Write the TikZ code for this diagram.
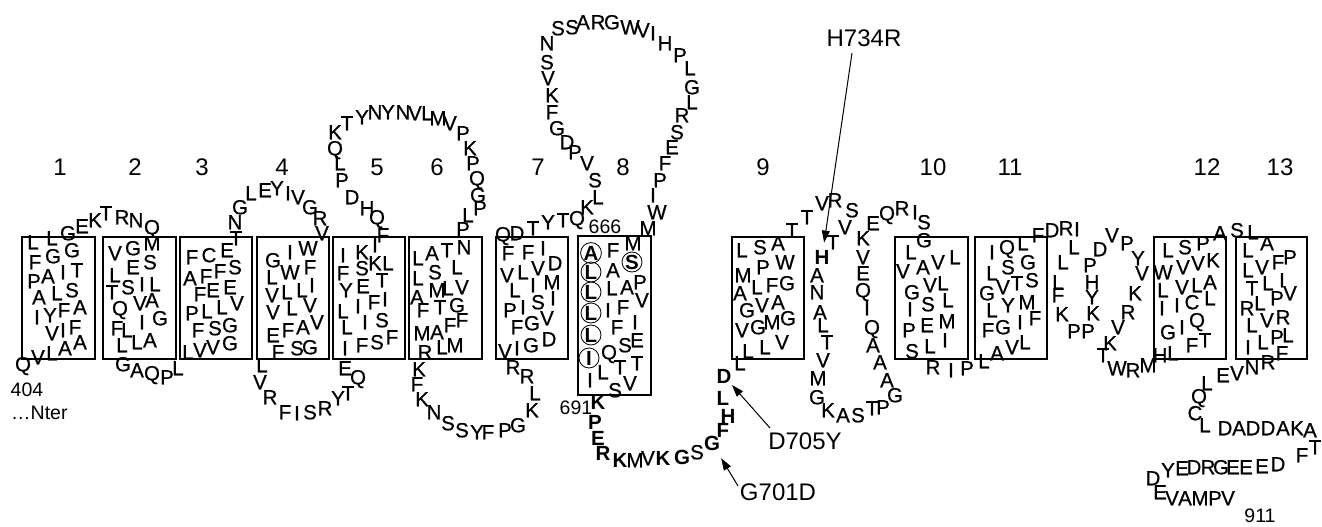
\documentclass[tikz,border=0pt]{standalone}
\usepackage{fontspec}
\setmainfont{Liberation Sans}
\newfontfamily\resfont{Liberation Sans}[FakeBold=0.6]
\newfontface\bresfont{Liberation Sans Bold}
\usetikzlibrary{arrows.meta,fit}
\tikzset{
  res/.style={font=\resfont\fontsize{20.5}{22}\selectfont, inner sep=0pt, text height=14.6pt, text depth=0pt},
  bres/.style={res, font=\bresfont\fontsize{20.5}{22}\selectfont},
  cres/.style={bres, draw, circle, line width=0.8pt, minimum size=20pt},
  tm/.style={draw, line width=1.1pt, inner sep=0pt, rectangle},
  num/.style={font=\fontsize{24}{26}\selectfont, inner sep=0pt},
  lab/.style={font=\fontsize{19.5}{21}\selectfont, inner sep=0pt},
  mut/.style={font=\fontsize{24}{26}\selectfont, inner sep=0pt},
  arr/.style={line width=1pt, -{Triangle[length=12pt,width=8pt]}},
}
\newcommand{\resgroup}[3]{\foreach \t/\x/\y [count=\i] in {#3} \node[#1] (#2\i) at (\x,\y) {\t};}
\begin{document}
\begin{tikzpicture}[x=1pt,y=-1pt]
\useasboundingbox (0,0) rectangle (1322,527);
% transmembrane boxes
\node[tm, fit={(22,237) (95,359)}] (tm1) {};
\node[tm, fit={(103,237) (176,359)}] (tm2) {};
\node[tm, fit={(180,237) (252,359)}] (tm3) {};
\node[tm, fit={(257,237) (329,359)}] (tm4) {};
\node[tm, fit={(333,237) (405,359)}] (tm5) {};
\node[tm, fit={(409,237) (482,359)}] (tm6) {};
\node[tm, fit={(496,237) (568,359)}] (tm7) {};
\node[tm, fit={(578,236) (651,395)}] (tm8) {};
\node[tm, fit={(732,237) (804,359)}] (tm9) {};
\node[tm, fit={(895,237) (968,359)}] (tm10) {};
\node[tm, fit={(975,237) (1047,359)}] (tm11) {};
\node[tm, fit={(1154,237) (1226,359)}] (tm12) {};
\node[tm, fit={(1236,237) (1307,359)}] (tm13) {};
% numbers
\foreach \t/\x [count=\i] in {1/60,2/135,3/202,4/282,5/377,6/437,7/538,8/623,9/763,10/933,11/1010,12/1207,13/1280}
  \node[num] (n\i) at (\x,167) {\t};
% residues
\resgroup{res}{a}{Q/23/364, V/38/357, L/52/353, A/65/348, A/80/342, V/52/333, I/63/330, F/75/327, I/37/317, Y/50/315, F/64/310, A/80/307, A/39/297, L/57/293, S/72/290, P/34/281, A/48/276, I/63/272, T/77/270, F/35/262, G/53/256, G/72/250, L/33/242, L/52/238, G/68/233, E/82/226, K/95/220, T/106/213, R/122/217, N/136/220, Q/152/227}
\resgroup{res}{b}{M/152/243, G/133/248, V/115/253, E/133/267, S/150/262, L/115/275, T/112/292, S/128/287, I/142/284, L/155/284, Q/120/308, V/140/303, A/152/300, G/160/318, F/117/328, L/127/330, I/142/322, L/122/345, L/137/342, A/150/340, G/123/364, A/137/370, Q/152/373, P/167/377, L/178/368}
\resgroup{res}{c}{L/188/352, V/200/350, V/213/347, G/230/343, F/198/330, S/215/328, G/230/325, P/192/313, L/207/311, L/222/307, V/237/303, F/200/294, E/213/290, E/230/287, A/190/278, F/206/276, F/220/271, S/235/267, F/192/257, C/209/255, E/227/250, T/236/238, N/235/222, G/240/207, L/251/193, E/265/190, Y/277/188, I/288/193, V/298/197, G/310/207, R/320/218, V/322/233}
\resgroup{res}{d}{G/273/260, I/290/252, W/308/248, L/272/277, W/290/272, F/310/267, V/272/295, L/287/292, L/302/290, I/312/285, V/273/312, L/292/308, V/310/305, E/273/335, F/288/330, A/303/327, V/317/322, F/278/352, S/297/348, G/310/347, L/262/365, V/260/382, R/270/397, F/285/412, I/297/413, S/310/412, R/325/408, Y/338/398, T/348/393, Q/358/377, E/345/368, I/345/348}
\resgroup{res}{e}{F/362/345, S/377/342, F/392/337, L/347/327, I/365/322, S/382/320, L/343/311, I/358/306, F/374/302, I/385/299, Y/346/290, E/363/286, T/382/280, F/343/273, S/362/268, K/375/263, L/388/263, I/343/255, K/362/252, I/375/245, F/383/235, Q/377/217, H/367/208, D/352/197, P/342/180, L/340/163, Q/335/148, K/335/132, T/347/123, Y/362/117, N/375/112, Y/388/112, N/403/112, V/415/113, L/427/113, M/438/118, V/450/123, P/463/133, K/470/148, P/473/163, Q/477/178, G/478/195, P/480/208, L/468/215, P/463/229, N/464/247}
\resgroup{res}{f}{L/418/258, A/432/253, T/447/250, L/457/267, S/435/272, L/418/278, M/437/290, L/448/288, V/462/287, A/417/297, F/423/310, T/440/307, G/457/305, F/450/325, F/462/320, M/422/333, A/437/332, R/425/352, L/442/347, M/455/345, K/419/369, F/417/384, K/422/399, N/434/412, S/448/423, S/462/430, Y/477/432, F/488/432, P/505/430, G/518/425, K/532/410, L/535/393, R/527/376, R/513/367, V/505/351, I/517/348, G/531/345, D/549/339}
\resgroup{res}{g}{V/547/318, G/532/323, F/517/327, P/510/310, I/523/307, S/538/302, I/553/298, L/515/290, I/533/285, M/552/282, V/507/275, L/523/272, V/538/268, D/555/263, F/508/253, F/528/252, I/543/248, Q/503/234, D/517/233, T/533/228, Y/548/222, T/563/220, Q/577/218, K/587/207, L/598/197, S/595/180, V/587/163, P/575/152, D/567/142, G/557/128, F/552/112, K/552/95, V/548/78, S/547/62, N/547/43, S/558/28, S/572/27, A/583/22, R/598/22, G/612/22, W/630/27, V/643/30, I/653/33, H/665/43, P/680/55, L/690/68, G/692/87, L/692/102, R/682/115, S/677/132, E/672/147, F/665/163, P/660/180, I/653/195, W/657/212, M/648/228}
\resgroup{res}{h}{M/633/243, F/613/250, A/613/270, L/612/288, A/627/287, P/640/282, I/608/310, F/623/307, V/642/300, F/617/327, I/635/322, Q/609/352, S/625/345, E/637/340, L/603/372, T/620/367, T/637/363, I/590/380, S/615/390, V/630/383, M/635/460, V/648/458, S/697/452}
\resgroup{cres}{hc}{A/591/253, L/591/272, L/591/292, L/591/313, L/591/335, I/589/358, S/632/262}
\resgroup{bres}{hb}{K/598/402, P/595/422, E/598/438, R/603/453, K/620/460, K/663/458, G/682/457, F/723/430, H/728/416, L/723/398}
\node[bres] (g701) at (712,443) {G};
\node[bres] (d705) at (724,376) {D};
\resgroup{res}{i}{L/740/363, L/748/351, L/765/347, V/782/342, V/742/330, G/758/327, M/772/322, G/788/318, G/747/310, V/762/305, A/778/302, A/740/293, L/757/287, F/772/285, G/787/283, M/743/275, P/763/267, W/785/262, L/742/250, S/760/247, A/778/243, T/792/230, T/807/217, V/822/203, R/835/200, S/852/210, V/845/227, T/833/242, A/817/275, N/817/292, A/820/312, L/823/325, T/827/342, V/823/360, M/818/378, G/817/397, K/828/410, A/843/415, S/858/415, T/872/408, P/883/407, G/895/395, A/887/380, A/880/362, A/873/345, Q/872/327, I/867/308, Q/863/290, E/863/273, V/863/257, K/863/238, E/873/223, Q/887/213, R/902/208, I/915/212, S/924/222, G/924/240}
\node[bres] (h734) at (822,257) {H};
\resgroup{res}{j}{L/911/252, V/903/271, A/923/267, V/938/262, L/955/257, G/912/292, V/930/285, L/943/283, I/910/309, S/928/304, L/948/300, P/909/330, E/927/325, M/947/321, S/912/351, L/930/346, I/945/340, R/933/367, I/951/370, P/967/368, L/984/361, A/997/353, V/1012/347, L/1025/342, F/1035/318, I/1020/322, G/1003/327, F/988/330, L/992/310, Y/1008/305, M/1027/302, G/987/293, V/1003/287, T/1017/283, S/1032/280, L/992/273, S/1008/267, G/1028/262, I/992/252, Q/1007/247, L/1023/243, F/1038/235, D/1052/230, R/1066/228, I/1077/229, L/1074/247, L/1063/262, L/1058/282, F/1058/295, K/1062/314, P/1074/331, P/1088/331, K/1093/313, Y/1092/297, H/1092/282, P/1090/265, D/1100/249, V/1112/235, P/1127/243, Y/1138/258, V/1142/273, K/1135/293, R/1128/312, V/1118/327, K/1110/343, T/1103/355, W/1117/368, R/1133/370, M/1148/365, H/1160/355, L/1173/353}
\resgroup{res}{k}{L/1168/250, S/1185/247, P/1203/243, A/1220/233, S/1237/230, L/1253/232, W/1163/272, V/1183/267, V/1198/263, K/1213/260, L/1163/290, V/1182/287, L/1197/285, A/1210/282, I/1162/308, I/1177/305, C/1192/302, L/1210/298, G/1168/332, I/1182/327, Q/1197/320, F/1192/345, T/1205/340, L/1248/250, A/1267/243, L/1248/270, V/1262/267, F/1278/262, P/1290/257, T/1252/288, L/1268/283, I/1282/280, R/1247/308, L/1260/303, P/1277/298, V/1290/293, L/1252/325, V/1267/320, R/1283/317, I/1248/347, L/1263/342, P/1277/337, L/1288/335, F/1282/353, R/1268/362, N/1252/367, V/1237/373, E/1223/375, L/1207/383, Q/1199/396, C/1195/413, L/1205/425, D/1225/428, A/1239/428, D/1253/428, D/1268/428, A/1283/428, K/1297/428, A/1310/430, T/1315/447, F/1302/455, D/1278/464, E/1262/466, E/1246/467, E/1233/467, G/1221/467, R/1208/467, D/1194/467, E/1182/468, Y/1168/470, D/1153/478, E/1160/492, V/1172/498, A/1185/498, M/1200/498, P/1215/498, V/1228/498}
% small labels
\node[lab] (l404) at (27,390) {404};
\node[lab, anchor=west] (lnter) at (11,413) {\char"2026Nter};
\node[lab] (l666) at (605,227) {666};
\node[lab] (l691) at (576,408) {691};
\node[lab] (l911) at (1260,516) {911};
% mutations
\node[mut] (mH) at (864,38) {H734R};
\node[mut] (mD) at (805,441) {D705Y};
\node[mut] (mG) at (778,492) {G701D};
\coordinate (hs) at (852,53);
\coordinate (ds) at (770,428);
\coordinate (gs) at (738,486);
\draw[arr, shorten >=7pt] (hs) -- (h734);
\draw[arr, shorten >=2pt] (ds) -- (d705);
\draw[arr, shorten >=9pt] (gs) -- (g701);
\end{tikzpicture}
\end{document}
